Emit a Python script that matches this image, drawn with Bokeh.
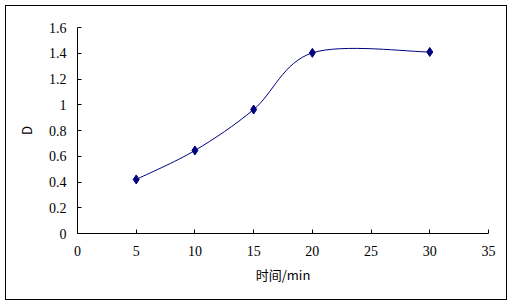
from bokeh.plotting import figure
from bokeh.layouts import column
from bokeh.models import Range1d, FixedTicker
from bokeh.embed import file_html
from bokeh.resources import INLINE

# data
time_min = [5, 10, 15, 20, 30]
d_values = [0.42, 0.645, 0.963, 1.403, 1.41]
x_ticks = [0, 5, 10, 15, 20, 25, 30, 35]
x_tick_labels = ["0", "5", "10", "15", "20", "25", "30", "35"]
y_ticks = [0, 0.2, 0.4, 0.6, 0.8, 1.0, 1.2, 1.4, 1.6]
y_tick_labels = ["0", "0.2", "0.4", "0.6", "0.8", "1", "1.2", "1.4", "1.6"]
x_label = "时间/min"
y_label = "D"

LINE = "#000080"
FONT = "'Liberation Serif', serif"

p = figure(width=500, height=293, output_backend="svg", toolbar_location=None,
           x_range=Range1d(0, 35), y_range=Range1d(0, 1.6),
           min_border_left=71, min_border_right=18, min_border_top=21, min_border_bottom=66)
p.outline_line_color = None
p.xgrid.visible = False
p.ygrid.visible = False
p.background_fill_color = "white"
p.border_fill_color = "white"

# smoothed (Excel-like) curve through the data points
n = len(time_min)
x0, y0, x1, y1, cx0, cy0, cx1, cy1 = [], [], [], [], [], [], [], []
for i in range(n - 1):
    pxm = time_min[i - 1] if i > 0 else time_min[i]
    pym = d_values[i - 1] if i > 0 else d_values[i]
    pxp = time_min[i + 2] if i + 2 < n else time_min[i + 1]
    pyp = d_values[i + 2] if i + 2 < n else d_values[i + 1]
    x0.append(time_min[i]); y0.append(d_values[i])
    x1.append(time_min[i + 1]); y1.append(d_values[i + 1])
    cx0.append(time_min[i] + (time_min[i + 1] - pxm) / 6)
    cy0.append(d_values[i] + (d_values[i + 1] - pym) / 6)
    cx1.append(time_min[i + 1] - (pxp - time_min[i]) / 6)
    cy1.append(d_values[i + 1] - (pyp - d_values[i]) / 6)
p.bezier(x0=x0, y0=y0, x1=x1, y1=y1, cx0=cx0, cy0=cy0, cx1=cx1, cy1=cy1,
         line_color=LINE, line_width=1)
p.scatter(time_min, d_values, marker="diamond", size=9, fill_color=LINE, line_color=LINE)

for ax in (p.xaxis[0], p.yaxis[0]):
    ax.axis_line_color = "black"
    ax.axis_line_width = 1
    ax.major_tick_in = 4
    ax.major_tick_out = 0
    ax.minor_tick_line_color = None
    ax.major_label_text_font = FONT
    ax.major_label_text_font_size = "14px"
    ax.major_label_text_color = "black"
    ax.axis_label_text_font = "Noto Sans CJK SC"
    ax.axis_label_text_font_size = "13px"
    ax.axis_label_text_font_style = "normal"
    ax.axis_label_text_color = "black"

p.xaxis.ticker = FixedTicker(ticks=x_ticks)
p.xaxis.major_label_overrides = {t: l for t, l in zip(x_ticks, x_tick_labels)}
p.yaxis.ticker = FixedTicker(ticks=y_ticks)
p.yaxis.major_label_overrides = {t: l for t, l in zip(y_ticks, y_tick_labels)}
p.xaxis.axis_label = x_label
p.yaxis.axis_label = y_label
p.xaxis.major_label_standoff = 12
p.yaxis.major_label_standoff = 11
p.xaxis.axis_label_standoff = 6
p.yaxis.axis_label_standoff = 10

layout = column(p, margin=(5, 0, 0, 5),
                styles={"border": "1px solid black", "background-color": "white"})

open("out.html", "w").write(file_html(layout, INLINE))
